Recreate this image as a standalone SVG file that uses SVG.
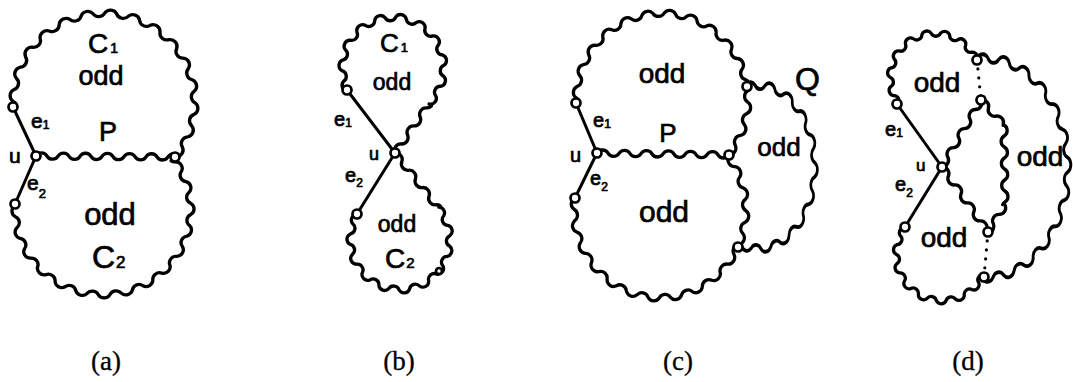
<svg xmlns="http://www.w3.org/2000/svg" xmlns:xlink="http://www.w3.org/1999/xlink" width="1073" height="382" viewBox="0 0 1073 382">
<style>
.w{fill:none;stroke:#000;stroke-linecap:round;stroke-linejoin:round}
.ln{fill:none;stroke:#000;stroke-width:3;stroke-linecap:round}
.dot{fill:none;stroke:#000;stroke-width:3.2;stroke-linecap:round;stroke-dasharray:0 9}
.nd{fill:#fff;stroke:#000;stroke-width:2.7}
.t{font-family:"Liberation Sans","DejaVu Sans",sans-serif;fill:#000;stroke:#000;stroke-width:0.7}
.cap{font-family:"Liberation Serif","DejaVu Serif",serif;font-size:27px;fill:#000;stroke:#000;stroke-width:0.3;text-anchor:middle}
.m{text-anchor:middle}
</style>
<defs>
<path id="wa" pathLength="360" d="M100 0A7.65 7.65 0 0 0 99.14 -13.05 7.65 7.65 0 0 1 96.59 -25.88 7.65 7.65 0 0 0 92.39 -38.27 7.65 7.65 0 0 1 86.6 -50 7.65 7.65 0 0 0 79.34 -60.88 7.65 7.65 0 0 1 70.71 -70.71 7.65 7.65 0 0 0 60.88 -79.34 7.65 7.65 0 0 1 50 -86.6 7.65 7.65 0 0 0 38.27 -92.39 7.65 7.65 0 0 1 25.88 -96.59 7.65 7.65 0 0 0 13.05 -99.14 7.65 7.65 0 0 1 0 -100 7.65 7.65 0 0 0 -13.05 -99.14 7.65 7.65 0 0 1 -25.88 -96.59 7.65 7.65 0 0 0 -38.27 -92.39 7.65 7.65 0 0 1 -50 -86.6 7.65 7.65 0 0 0 -60.88 -79.34 7.65 7.65 0 0 1 -70.71 -70.71 7.65 7.65 0 0 0 -79.34 -60.88 7.65 7.65 0 0 1 -86.6 -50 7.65 7.65 0 0 0 -92.39 -38.27 7.65 7.65 0 0 1 -96.59 -25.88 7.65 7.65 0 0 0 -99.14 -13.05 7.65 7.65 0 0 1 -100 0 7.65 7.65 0 0 0 -99.14 13.05 7.65 7.65 0 0 1 -96.59 25.88 7.65 7.65 0 0 0 -92.39 38.27 7.65 7.65 0 0 1 -86.6 50 7.65 7.65 0 0 0 -79.34 60.88 7.65 7.65 0 0 1 -70.71 70.71 7.65 7.65 0 0 0 -60.88 79.34 7.65 7.65 0 0 1 -50 86.6 7.65 7.65 0 0 0 -38.27 92.39 7.65 7.65 0 0 1 -25.88 96.59 7.65 7.65 0 0 0 -13.05 99.14 7.65 7.65 0 0 1 0 100 7.65 7.65 0 0 0 13.05 99.14 7.65 7.65 0 0 1 25.88 96.59 7.65 7.65 0 0 0 38.27 92.39 7.65 7.65 0 0 1 50 86.6 7.65 7.65 0 0 0 60.88 79.34 7.65 7.65 0 0 1 70.71 70.71 7.65 7.65 0 0 0 79.34 60.88 7.65 7.65 0 0 1 86.6 50 7.65 7.65 0 0 0 92.39 38.27 7.65 7.65 0 0 1 96.59 25.88 7.65 7.65 0 0 0 99.14 13.05 7.65 7.65 0 0 1 100 0"/>
<path id="wb" pathLength="360" d="M100 0A10.5 10.5 0 0 0 98.48 -17.36 10.5 10.5 0 0 1 93.97 -34.2 10.5 10.5 0 0 0 86.6 -50 10.5 10.5 0 0 1 76.6 -64.28 10.5 10.5 0 0 0 64.28 -76.6 10.5 10.5 0 0 1 50 -86.6 10.5 10.5 0 0 0 34.2 -93.97 10.5 10.5 0 0 1 17.36 -98.48 10.5 10.5 0 0 0 0 -100 10.5 10.5 0 0 1 -17.36 -98.48 10.5 10.5 0 0 0 -34.2 -93.97 10.5 10.5 0 0 1 -50 -86.6 10.5 10.5 0 0 0 -64.28 -76.6 10.5 10.5 0 0 1 -76.6 -64.28 10.5 10.5 0 0 0 -86.6 -50 10.5 10.5 0 0 1 -93.97 -34.2 10.5 10.5 0 0 0 -98.48 -17.36 10.5 10.5 0 0 1 -100 0 10.5 10.5 0 0 0 -98.48 17.36 10.5 10.5 0 0 1 -93.97 34.2 10.5 10.5 0 0 0 -86.6 50 10.5 10.5 0 0 1 -76.6 64.28 10.5 10.5 0 0 0 -64.28 76.6 10.5 10.5 0 0 1 -50 86.6 10.5 10.5 0 0 0 -34.2 93.97 10.5 10.5 0 0 1 -17.36 98.48 10.5 10.5 0 0 0 0 100 10.5 10.5 0 0 1 17.36 98.48 10.5 10.5 0 0 0 34.2 93.97 10.5 10.5 0 0 1 50 86.6 10.5 10.5 0 0 0 64.28 76.6 10.5 10.5 0 0 1 76.6 64.28 10.5 10.5 0 0 0 86.6 50 10.5 10.5 0 0 1 93.97 34.2 10.5 10.5 0 0 0 98.48 17.36 10.5 10.5 0 0 1 100 0"/>
<path id="wc" pathLength="360" d="M100 0A11.55 11.55 0 0 0 97.81 -20.79 11.55 11.55 0 0 1 91.35 -40.67 11.55 11.55 0 0 0 80.9 -58.78 11.55 11.55 0 0 1 66.91 -74.31 11.55 11.55 0 0 0 50 -86.6 11.55 11.55 0 0 1 30.9 -95.11 11.55 11.55 0 0 0 10.45 -99.45 11.55 11.55 0 0 1 -10.45 -99.45 11.55 11.55 0 0 0 -30.9 -95.11 11.55 11.55 0 0 1 -50 -86.6 11.55 11.55 0 0 0 -66.91 -74.31 11.55 11.55 0 0 1 -80.9 -58.78 11.55 11.55 0 0 0 -91.35 -40.67 11.55 11.55 0 0 1 -97.81 -20.79 11.55 11.55 0 0 0 -100 0 11.55 11.55 0 0 1 -97.81 20.79 11.55 11.55 0 0 0 -91.35 40.67 11.55 11.55 0 0 1 -80.9 58.78 11.55 11.55 0 0 0 -66.91 74.31 11.55 11.55 0 0 1 -50 86.6 11.55 11.55 0 0 0 -30.9 95.11 11.55 11.55 0 0 1 -10.45 99.45 11.55 11.55 0 0 0 10.45 99.45 11.55 11.55 0 0 1 30.9 95.11 11.55 11.55 0 0 0 50 86.6 11.55 11.55 0 0 1 66.91 74.31 11.55 11.55 0 0 0 80.9 58.78 11.55 11.55 0 0 1 91.35 40.67 11.55 11.55 0 0 0 97.81 20.79 11.55 11.55 0 0 1 100 0"/>
<path id="ws" pathLength="220" d="M0 0a6.43 6.43 0 0 1 11 0 6.43 6.43 0 0 0 11 0 6.43 6.43 0 0 1 11 0 6.43 6.43 0 0 0 11 0 6.43 6.43 0 0 1 11 0 6.43 6.43 0 0 0 11 0 6.43 6.43 0 0 1 11 0 6.43 6.43 0 0 0 11 0 6.43 6.43 0 0 1 11 0 6.43 6.43 0 0 0 11 0 6.43 6.43 0 0 1 11 0 6.43 6.43 0 0 0 11 0 6.43 6.43 0 0 1 11 0 6.43 6.43 0 0 0 11 0 6.43 6.43 0 0 1 11 0 6.43 6.43 0 0 0 11 0 6.43 6.43 0 0 1 11 0 6.43 6.43 0 0 0 11 0 6.43 6.43 0 0 1 11 0 6.43 6.43 0 0 0 11 0"/>
</defs>
<rect width="1073" height="382" fill="#fff"/>
<g id="connectors">
<!-- (a) -->
<use class="w" href="#wa" transform="translate(104 102) scale(.91 .89) rotate(38)" stroke-width="3.65" stroke-dasharray="221 400"/>
<use class="w" href="#wa" transform="translate(103 210) scale(.88 .85) rotate(-177)" stroke-width="3.8" stroke-dasharray="220 400"/>
<use class="w" href="#ws" transform="matrix(1 .0072 -.0072 1 36 156)" stroke-width="3.3" stroke-dasharray="139 400"/>
<line class="ln" x1="13" y1="107" x2="36" y2="156"/>
<line class="ln" x1="36" y1="156" x2="15" y2="204"/>
<!-- (b) -->
<use class="w" href="#wc" transform="translate(393 68) scale(.51) rotate(45)" stroke-width="6.5" stroke-dasharray="251 400"/>
<use class="w" href="#wc" transform="translate(400 240) scale(.5) rotate(-149)" stroke-width="6.6" stroke-dasharray="251 400"/>
<use class="w" href="#ws" transform="matrix(.572 -.82 .82 .572 395 153)" stroke-width="3.3" stroke-dasharray="59.6 400"/>
<use class="w" href="#ws" transform="matrix(.619 .785 -.785 .619 395 153)" stroke-width="3.3" stroke-dasharray="69.9 400"/>
<line class="ln" x1="347" y1="90" x2="395" y2="153"/>
<line class="ln" x1="395" y1="153" x2="357" y2="214"/>
<!-- (c) -->
<use class="w" href="#wa" transform="translate(662 100) scale(.86 .87) rotate(39)" stroke-width="3.8" stroke-dasharray="221 400"/>
<use class="w" href="#wa" transform="translate(660 210) scale(.86 .88) rotate(-172)" stroke-width="3.8" stroke-dasharray="226 400"/>
<use class="w" href="#wb" transform="translate(758 167) scale(.57 .82) rotate(-253)" stroke-width="4.7" stroke-dasharray="208 400"/>
<use class="w" href="#ws" transform="matrix(1 .015 -.015 1 597 153)" stroke-width="3.3" stroke-dasharray="132 400"/>
<line class="ln" x1="576" y1="103" x2="597" y2="153"/>
<line class="ln" x1="597" y1="153" x2="575" y2="198"/>
<!-- (d) -->
<use class="w" href="#wc" transform="translate(935 78) scale(.45) rotate(-23)" stroke-width="7.3" stroke-dasharray="191 400"/>
<use class="w" href="#wc" transform="translate(942 255) scale(.46) rotate(-143)" stroke-width="7.15" stroke-dasharray="190 400"/>
<use class="w" href="#wa" transform="translate(985 168) scale(.83 1.1) rotate(-268)" stroke-width="3.45" stroke-dasharray="187 400"/>
<use class="w" href="#ws" transform="matrix(-.503 .865 -.865 -.503 981 100)" stroke-width="3.3" stroke-dasharray="77.5 400"/>
<use class="w" href="#ws" transform="matrix(.578 .817 -.817 .578 942 167)" stroke-width="3.3" stroke-dasharray="79.6 400"/>
<use class="w" href="#ws" transform="matrix(.676 .735 -.735 .676 981 100)" stroke-width="3.3" stroke-dasharray="34 400"/>
<use class="w" href="#ws" transform="matrix(.0125 1 -1 .0125 1004 125)" stroke-width="3.3" stroke-dasharray="80 400"/>
<use class="w" href="#ws" transform="matrix(-.533 .846 -.846 -.533 1005 205)" stroke-width="3.3" stroke-dasharray="31.9 400"/>
<line class="ln" x1="897" y1="104" x2="942" y2="167"/>
<line class="ln" x1="942" y1="167" x2="905" y2="227"/>
<line class="dot" x1="977" y1="60" x2="981" y2="100"/>
<line class="dot" x1="988" y1="232" x2="984" y2="277"/>
</g>
<g id="nodes-a">
<circle class="nd" cx="13" cy="107" r="4.5"/>
<circle class="nd" cx="36" cy="156" r="4.5"/>
<circle class="nd" cx="175" cy="157" r="4.5"/>
<circle class="nd" cx="15" cy="204" r="4.5"/>
</g>
<g id="nodes-b">
<circle class="nd" cx="347" cy="90" r="4.5"/>
<circle class="nd" cx="395" cy="153" r="4.5"/>
<circle class="nd" cx="357" cy="214" r="4.5"/>
<circle class="nd" cx="439" cy="271" r="3"/>
</g>
<g id="nodes-c">
<circle class="nd" cx="576" cy="103" r="4.5"/>
<circle class="nd" cx="597" cy="153" r="4.5"/>
<circle class="nd" cx="747" cy="86.5" r="4.5"/>
<circle class="nd" cx="729" cy="155" r="4.5"/>
<circle class="nd" cx="738" cy="247" r="4.5"/>
<circle class="nd" cx="575" cy="198" r="4.5"/>
</g>
<g id="nodes-d">
<circle class="nd" cx="897" cy="104" r="4.5"/>
<circle class="nd" cx="942" cy="167" r="4.5"/>
<circle class="nd" cx="977" cy="60" r="4.5"/>
<circle class="nd" cx="981" cy="100" r="4.5"/>
<circle class="nd" cx="988" cy="232" r="4.5"/>
<circle class="nd" cx="984" cy="277" r="4.5"/>
<circle class="nd" cx="905" cy="227" r="4.5"/>
</g>
<g id="labels-a" class="t">
<text x="88" y="53" font-size="28">C<tspan font-size="14" dx="2">1</tspan></text>
<text class="m" x="101" y="85" font-size="27">odd</text>
<text class="m" x="108" y="141" font-size="27">P</text>
<text x="31" y="128" font-size="21">e<tspan font-size="12" dy="1">1</tspan></text>
<text x="9" y="163" font-size="21">u</text>
<text x="27" y="190" font-size="21">e<tspan font-size="13" dy="8">2</tspan></text>
<text class="m" x="110" y="225" font-size="31">odd</text>
<text x="92" y="268" font-size="32">C<tspan font-size="17" dx="1">2</tspan></text>
</g>
<g id="labels-b" class="t">
<text x="380" y="52" font-size="26">C<tspan font-size="13" dx="2">1</tspan></text>
<text class="m" x="392" y="90" font-size="23">odd</text>
<text x="334" y="126" font-size="20">e<tspan font-size="12" dy="1">1</tspan></text>
<text x="369" y="160" font-size="18">u</text>
<text x="345" y="182" font-size="20">e<tspan font-size="12" dy="5">2</tspan></text>
<text class="m" x="397" y="232" font-size="23">odd</text>
<text x="385" y="268" font-size="28">C<tspan font-size="15" dx="1">2</tspan></text>
</g>
<g id="labels-c" class="t">
<text class="m" x="662" y="83" font-size="28">odd</text>
<text class="m" x="668" y="142" font-size="26">P</text>
<text x="593" y="127" font-size="20">e<tspan font-size="12" dy="1">1</tspan></text>
<text x="570" y="162" font-size="20">u</text>
<text x="590" y="185" font-size="20">e<tspan font-size="12" dy="6">2</tspan></text>
<text class="m" x="664" y="222" font-size="30">odd</text>
<text x="795" y="90" font-size="32">Q</text>
<text class="m" x="779" y="156" font-size="26">odd</text>
</g>
<g id="labels-d" class="t">
<text class="m" x="937" y="92" font-size="28">odd</text>
<text x="885" y="136" font-size="20">e<tspan font-size="12" dy="1">1</tspan></text>
<text x="916" y="171" font-size="17">u</text>
<text x="895" y="191" font-size="20">e<tspan font-size="12" dy="6">2</tspan></text>
<text class="m" x="944" y="247" font-size="28">odd</text>
<text class="m" x="1040" y="166" font-size="28">odd</text>
</g>
<g id="captions">
<text class="cap" x="106" y="370">(a)</text>
<text class="cap" x="399" y="370">(b)</text>
<text class="cap" x="678" y="370">(c)</text>
<text class="cap" x="968" y="370">(d)</text>
</g>
</svg>
